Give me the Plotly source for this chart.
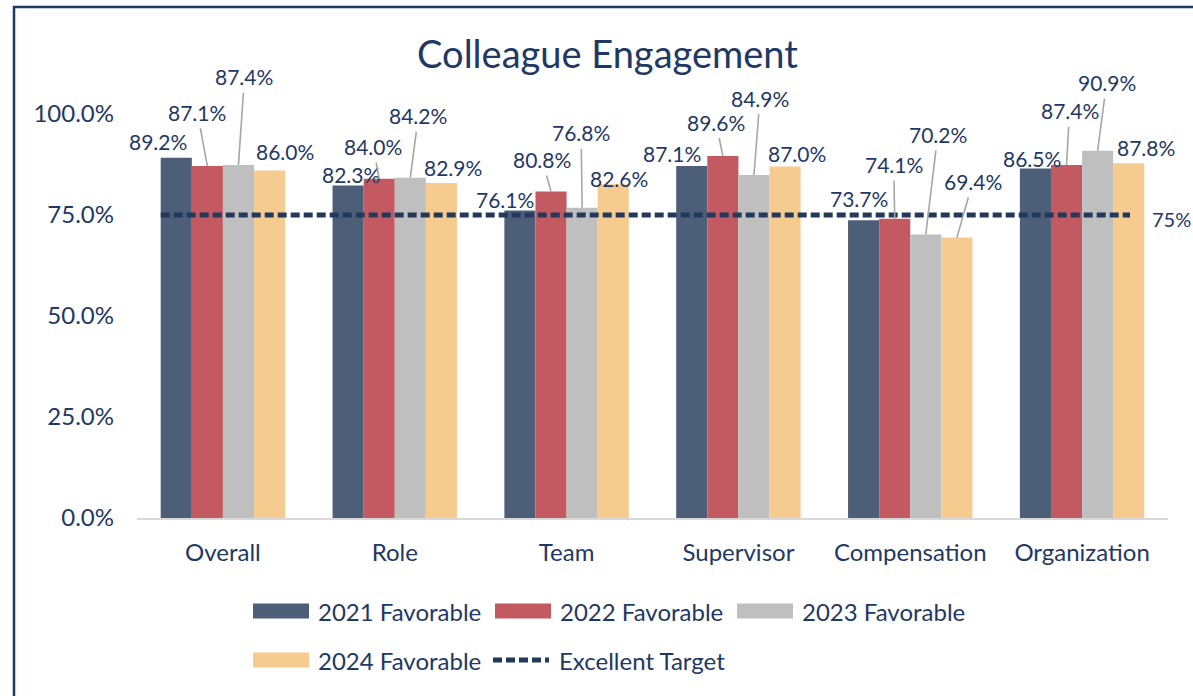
import plotly.graph_objects as go

# ---------------- data ----------------
CATEGORIES = ["Overall", "Role", "Team", "Supervisor", "Compensation", "Organization"]
SERIES_NAMES = ["2021 Favorable", "2022 Favorable", "2023 Favorable", "2024 Favorable"]
FAV_2021 = [0.892, 0.823, 0.761, 0.871, 0.737, 0.865]
FAV_2022 = [0.871, 0.840, 0.808, 0.896, 0.741, 0.874]
FAV_2023 = [0.874, 0.842, 0.768, 0.849, 0.702, 0.909]
FAV_2024 = [0.860, 0.829, 0.826, 0.870, 0.694, 0.878]
TARGET_NAME = "Excellent Target"
TARGET = [0.75, 0.75, 0.75, 0.75, 0.75, 0.75]
Y_TICKS = [0.0, 0.25, 0.50, 0.75, 1.0]

# ---------------- styles / layout constants ----------------
COLORS = ["#4D5F78", "#C45A61", "#BFBFBF", "#F6CB8F"]
TEXT = "#1F3864"
FONT = "Lato"
W, H = 1193, 696
PL, PR, PT, PB = 137, 1168, 114, 518  # plot area in page pixels
BARGAP = 0.276

# label offsets (px) of each data label centre from its bar top, and whether a leader line is drawn
LABEL_DX = [
    [-18, 3, -15, -20, -5, -3],
    [-10, -6, -9, -7, -1, 3],
    [6, 8, -1, 6, 12, 9],
    [15, 12, 6, 12, 16, 17],
]
LABEL_DY = [
    [-16, -11, -11, -13, -22, -10],
    [-54, -32, -32, -34, -54, -54],
    [-88, -62, -75, -77, -100, -68],
    [-19, -16, -6, -13, -56, -16],
]
LEADER = [
    [0, 0, 0, 0, 0, 0],
    [1, 1, 1, 1, 1, 1],
    [1, 1, 1, 1, 1, 1],
    [0, 0, 0, 0, 1, 0],
]

values = [FAV_2021, FAV_2022, FAV_2023, FAV_2024]


def px_x(px):
    return (px - PL) / (PR - PL)


def px_y(py):
    return (PB - py) / (PB - PT)


fig = go.Figure()
for name, vals, col in zip(SERIES_NAMES, values, COLORS):
    fig.add_trace(go.Bar(x=CATEGORIES, y=vals, name=name, marker_color=col,
                         marker_line_width=0, showlegend=False))

# target line on an overlaid category axis
fig.add_trace(go.Scatter(x=CATEGORIES, y=TARGET, name=TARGET_NAME, mode="lines",
                         xaxis="x2", line=dict(color="#22395C", width=5, dash="9px,4px"),
                         showlegend=False))

annotations = []
bw = (1 - BARGAP) / 4
for i, vals in enumerate(values):
    for j, v in enumerate(vals):
        xpos = j + (i - 1.5) * bw
        txt = f"{v:.1%}"
        if LEADER[i][j]:
            annotations.append(dict(x=xpos, y=v, xref="x", yref="y", text=txt,
                                    showarrow=True, arrowhead=0, arrowwidth=1.6,
                                    arrowcolor="#A6A6A6", ax=LABEL_DX[i][j], ay=LABEL_DY[i][j],
                                    standoff=0, startstandoff=2,
                                    font=dict(family=FONT, size=21, color=TEXT)))
        else:
            annotations.append(dict(x=xpos, y=v, xref="x", yref="y", text=txt,
                                    showarrow=False, xshift=LABEL_DX[i][j], yshift=-LABEL_DY[i][j],
                                    font=dict(family=FONT, size=21, color=TEXT)))

# target end label
annotations.append(dict(x=len(TARGET) - 1, y=TARGET[-1], xref="x2", yref="y",
                        text=f"{TARGET[-1]:.0%}", showarrow=False, xanchor="left",
                        xshift=20, yshift=-4, font=dict(family=FONT, size=20, color=TEXT)))

# custom legend
shapes = []
leg_rows = [
    [(0, 253, 611), (1, 495, 611), (2, 737, 611)],
    [(3, 253, 660)],
]
for row in leg_rows:
    for idx, x0, yc in row:
        shapes.append(dict(type="rect", xref="paper", yref="paper",
                           x0=px_x(x0), x1=px_x(x0 + 56), y0=px_y(yc + 7.5), y1=px_y(yc - 7.5),
                           fillcolor=COLORS[idx], line_width=0))
        annotations.append(dict(xref="paper", yref="paper", x=px_x(x0 + 63), y=px_y(yc),
                                xanchor="left", yanchor="middle", text=SERIES_NAMES[idx],
                                showarrow=False, font=dict(family=FONT, size=24, color=TEXT)))
shapes.append(dict(type="line", xref="paper", yref="paper", x0=px_x(493), x1=px_x(549),
                   y0=px_y(660), y1=px_y(660), line=dict(color="#22395C", width=5, dash="9px,4px")))
annotations.append(dict(xref="paper", yref="paper", x=px_x(557), y=px_y(660),
                        xanchor="left", yanchor="middle", text=TARGET_NAME,
                        showarrow=False, font=dict(family=FONT, size=24, color=TEXT)))

# outer frame
shapes.append(dict(type="rect", xref="paper", yref="paper", layer="above",
                   x0=px_x(14), x1=px_x(1205), y0=px_y(710), y1=px_y(7),
                   line=dict(color="#1F3864", width=2.5), fillcolor="rgba(0,0,0,0)"))

span = 5
x2_left = -(160.7 - PL) / ((1130 - 160.7) / span)
x2_right = x2_left + (PR - PL) / ((1130 - 160.7) / span)

fig.update_layout(
    width=W, height=H,
    margin=dict(l=PL, r=W - PR, t=PT, b=H - PB),
    paper_bgcolor="white", plot_bgcolor="white",
    barmode="group", bargap=BARGAP, bargroupgap=0,
    title=dict(text="Colleague Engagement", x=607.5 / W, xanchor="center",
               y=1 - 55 / H, yanchor="middle", yref="container",
               font=dict(family=FONT, size=38, color=TEXT)),
    font=dict(family=FONT, color=TEXT),
    xaxis=dict(type="category", range=[-0.5, len(CATEGORIES) - 0.5], showgrid=False,
               zeroline=False, showline=True, linecolor="#D9D9D9", linewidth=2,
               ticks="", ticklabelstandoff=12,
               tickfont=dict(family=FONT, size=24, color=TEXT)),
    xaxis2=dict(type="category", overlaying="x", range=[x2_left, x2_right],
                visible=False, showgrid=False),
    yaxis=dict(range=[0, 1.0], tickvals=Y_TICKS, tickformat=".1%", showgrid=False,
               zeroline=False, showline=False, ticks="", ticklabelstandoff=22,
               tickfont=dict(family=FONT, size=24, color=TEXT)),
    annotations=annotations,
    shapes=shapes,
    showlegend=False,
)

fig.write_html("out.html", config={"displayModeBar": False},
               post_script="document.body.style.margin='0';")
